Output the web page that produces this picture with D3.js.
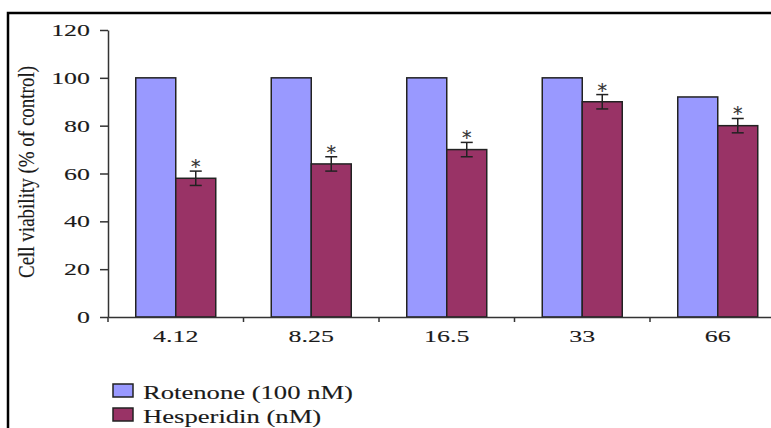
<!DOCTYPE html>
<html>
<head>
<meta charset="utf-8">
<script src="https://cdn.jsdelivr.net/npm/d3@7"></script>
<style>
  html, body { margin: 0; padding: 0; background: #fff; }
  svg { display: block; }
  text { font-family: "Liberation Serif", "DejaVu Serif", serif; fill: #1a1a1a; stroke: #1a1a1a; stroke-width: 0.12px; }
</style>
</head>
<body>
<div id="graph"></div>
<script>
// chart data
var doses = ["4.12", "8.25", "16.5", "33", "66"];
var seriesNames = ["Rotenone (100 nM)", "Hesperidin (nM)"];
var rotenone = [100, 100, 100, 100, 92];
var hesperidin = [58, 64, 70, 90, 80];
var hesperidinErr = [3, 3, 3, 3, 3];
var yTicks = [0, 20, 40, 60, 80, 100, 120];

var width = 771;
var height = 428;
var colors = ["#9999ff", "#993366"];
var stretch = 1.48; // text in the picture is wide

var svg = d3.select("#graph")
  .append("svg")
  .attr("width", width)
  .attr("height", height);

// frame around the figure
svg.append("rect")
  .attr("x", 8).attr("y", 13)
  .attr("width", 800).attr("height", 450)
  .attr("fill", "none")
  .attr("stroke", "#000")
  .attr("stroke-width", 2.5);

// scales
var xScale = d3.scaleBand()
  .domain(doses)
  .range([108, 785.5]);

var step = xScale.step();
var barW = 40;
var x1 = d3.scaleBand()
  .domain(seriesNames)
  .range([step / 2 - barW, step / 2 + barW]);

var yScale = d3.scaleLinear()
  .domain([0, 120])
  .range([317, 30]);

// bars
var groups = svg.append("g").selectAll("g")
  .data(doses)
  .enter().append("g")
  .attr("transform", function(d) { return "translate(" + xScale(d) + ",0)"; });

groups.append("rect")
  .attr("x", x1(seriesNames[0]))
  .attr("y", function(d, i) { return yScale(rotenone[i]); })
  .attr("width", x1.bandwidth())
  .attr("height", function(d, i) { return yScale(0) - yScale(rotenone[i]); })
  .attr("fill", colors[0])
  .attr("stroke", "#222")
  .attr("stroke-width", 1.5);

groups.append("rect")
  .attr("x", x1(seriesNames[1]))
  .attr("y", function(d, i) { return yScale(hesperidin[i]); })
  .attr("width", x1.bandwidth())
  .attr("height", function(d, i) { return yScale(0) - yScale(hesperidin[i]); })
  .attr("fill", colors[1])
  .attr("stroke", "#222")
  .attr("stroke-width", 1.5);

// error bars + asterisks
var cx = x1(seriesNames[1]) + x1.bandwidth() / 2;
groups.append("line")
  .attr("x1", cx).attr("x2", cx)
  .attr("y1", function(d, i) { return yScale(hesperidin[i] + hesperidinErr[i]); })
  .attr("y2", function(d, i) { return yScale(hesperidin[i] - hesperidinErr[i]); })
  .attr("stroke", "#222").attr("stroke-width", 1.5);
[1, -1].forEach(function(s) {
  groups.append("line")
    .attr("x1", cx - 6).attr("x2", cx + 6)
    .attr("y1", function(d, i) { return yScale(hesperidin[i] + s * hesperidinErr[i]); })
    .attr("y2", function(d, i) { return yScale(hesperidin[i] + s * hesperidinErr[i]); })
    .attr("stroke", "#222").attr("stroke-width", 1.5);
});
groups.append("text")
  .attr("x", cx)
  .attr("y", function(d, i) { return yScale(hesperidin[i] + hesperidinErr[i]) + 2; })
  .attr("text-anchor", "middle")
  .style("font-family", "DejaVu Sans")
  .style("font-size", "19px")
  .style("fill", "#333")
  .style("stroke", "#333")
  .text("*");

// y axis
var yAxis = svg.append("g")
  .attr("transform", "translate(108,0)")
  .call(d3.axisLeft(yScale).tickValues(yTicks).tickSize(8).tickSizeOuter(0).tickPadding(10));
yAxis.select(".domain").attr("stroke", "#333").attr("stroke-width", 1.5);
yAxis.selectAll(".tick line").attr("stroke", "#333").attr("stroke-width", 1.5);
yAxis.selectAll(".tick text")
  .attr("x", null)
  .attr("transform", "translate(-18,0) scale(" + stretch + ",1)")
  .style("font-family", "Liberation Serif")
  .style("font-size", "17.5px")
  .style("fill", "#1a1a1a");

// x axis
var xAxis = svg.append("g")
  .attr("transform", "translate(0,317)")
  .call(d3.axisBottom(xScale).tickSize(0).tickSizeOuter(0).tickPadding(0));
xAxis.select(".domain").attr("stroke", "#333").attr("stroke-width", 1.5);
xAxis.selectAll(".tick text")
  .attr("y", null).attr("dy", null)
  .attr("transform", "translate(0,25) scale(" + stretch + ",1)")
  .style("font-family", "Liberation Serif")
  .style("font-size", "17.5px")
  .style("fill", "#1a1a1a");
// ticks on the group boundaries
xAxis.selectAll(".bound")
  .data(doses)
  .enter().append("line")
  .attr("class", "bound")
  .attr("x1", function(d) { return xScale(d); })
  .attr("x2", function(d) { return xScale(d); })
  .attr("y1", 0).attr("y2", 5)
  .attr("stroke", "#333").attr("stroke-width", 1.5);

// y label
svg.append("text")
  .attr("transform", "translate(34,172) scale(1.25,1) rotate(-90)")
  .attr("text-anchor", "middle")
  .style("font-size", "19px")
  .text("Cell viability (% of control)");

// legend
var legend = svg.append("g").selectAll("g")
  .data(seriesNames)
  .enter().append("g")
  .attr("transform", function(d, i) { return "translate(113," + (384 + i * 24) + ")"; });
legend.append("rect")
  .attr("width", 20).attr("height", 13)
  .attr("fill", function(d, i) { return colors[i]; })
  .attr("stroke", "#222").attr("stroke-width", 1.5);
legend.append("text")
  .attr("transform", "translate(30,14.5) scale(" + stretch + ",1)")
  .style("font-size", "18px")
  .text(function(d) { return d; });
</script>
</body>
</html>
